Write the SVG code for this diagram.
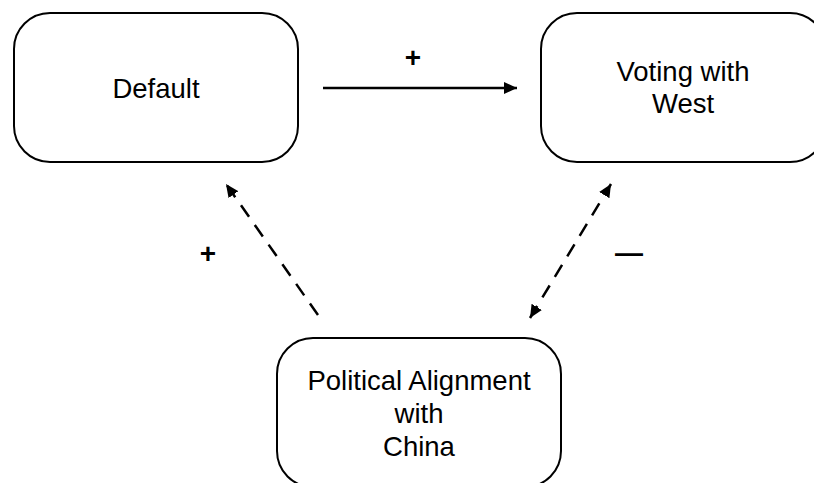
<svg xmlns="http://www.w3.org/2000/svg" width="814" height="483" viewBox="0 0 814 483">
<defs>
<style>
.box{fill:#fff;stroke:#000;stroke-width:2}
.lbl{font-family:"Liberation Sans",Arial,sans-serif;font-size:27.5px;fill:#000;text-anchor:middle}
.sign{font-family:"Liberation Sans",Arial,sans-serif;font-weight:bold;font-size:28px;fill:#000;text-anchor:middle}
.conn{stroke:#000;stroke-width:2.5;fill:none}
.dash{stroke-dasharray:14 10}
</style>
<marker id="ah" markerUnits="userSpaceOnUse" markerWidth="14" markerHeight="12" viewBox="0 0 14 12" refX="13" refY="6" orient="auto-start-reverse">
<path d="M0,0 L13,6 L0,12 Z" fill="#000"/>
</marker>
</defs>
<rect width="814" height="483" fill="#fff"/>
<g id="node-default">
<rect class="box" x="14" y="13" width="284" height="149" rx="36" ry="36"/>
<text class="lbl" x="156" y="98">Default</text>
</g>
<g id="node-voting">
<rect class="box" x="541" y="13" width="285" height="149" rx="36" ry="36"/>
<text class="lbl" x="683" y="81">Voting with</text>
<text class="lbl" x="683" y="113">West</text>
</g>
<g id="node-china">
<rect class="box" x="277" y="338" width="284" height="149" rx="36" ry="36"/>
<text class="lbl" x="419" y="390">Political Alignment</text>
<text class="lbl" x="419" y="423">with</text>
<text class="lbl" x="419" y="456">China</text>
</g>
<g id="connectors">
<line class="conn" x1="323" y1="88" x2="517" y2="88" marker-end="url(#ah)"/>
<line class="conn dash" x1="318" y1="315" x2="226" y2="184" marker-end="url(#ah)"/>
<line class="conn dash" x1="530" y1="318" x2="611" y2="184" marker-start="url(#ah)" marker-end="url(#ah)"/>
<text class="sign" x="413" y="67">+</text>
<text class="sign" x="208" y="263">+</text>
<text class="sign" x="629" y="262">—</text>
</g>
</svg>
